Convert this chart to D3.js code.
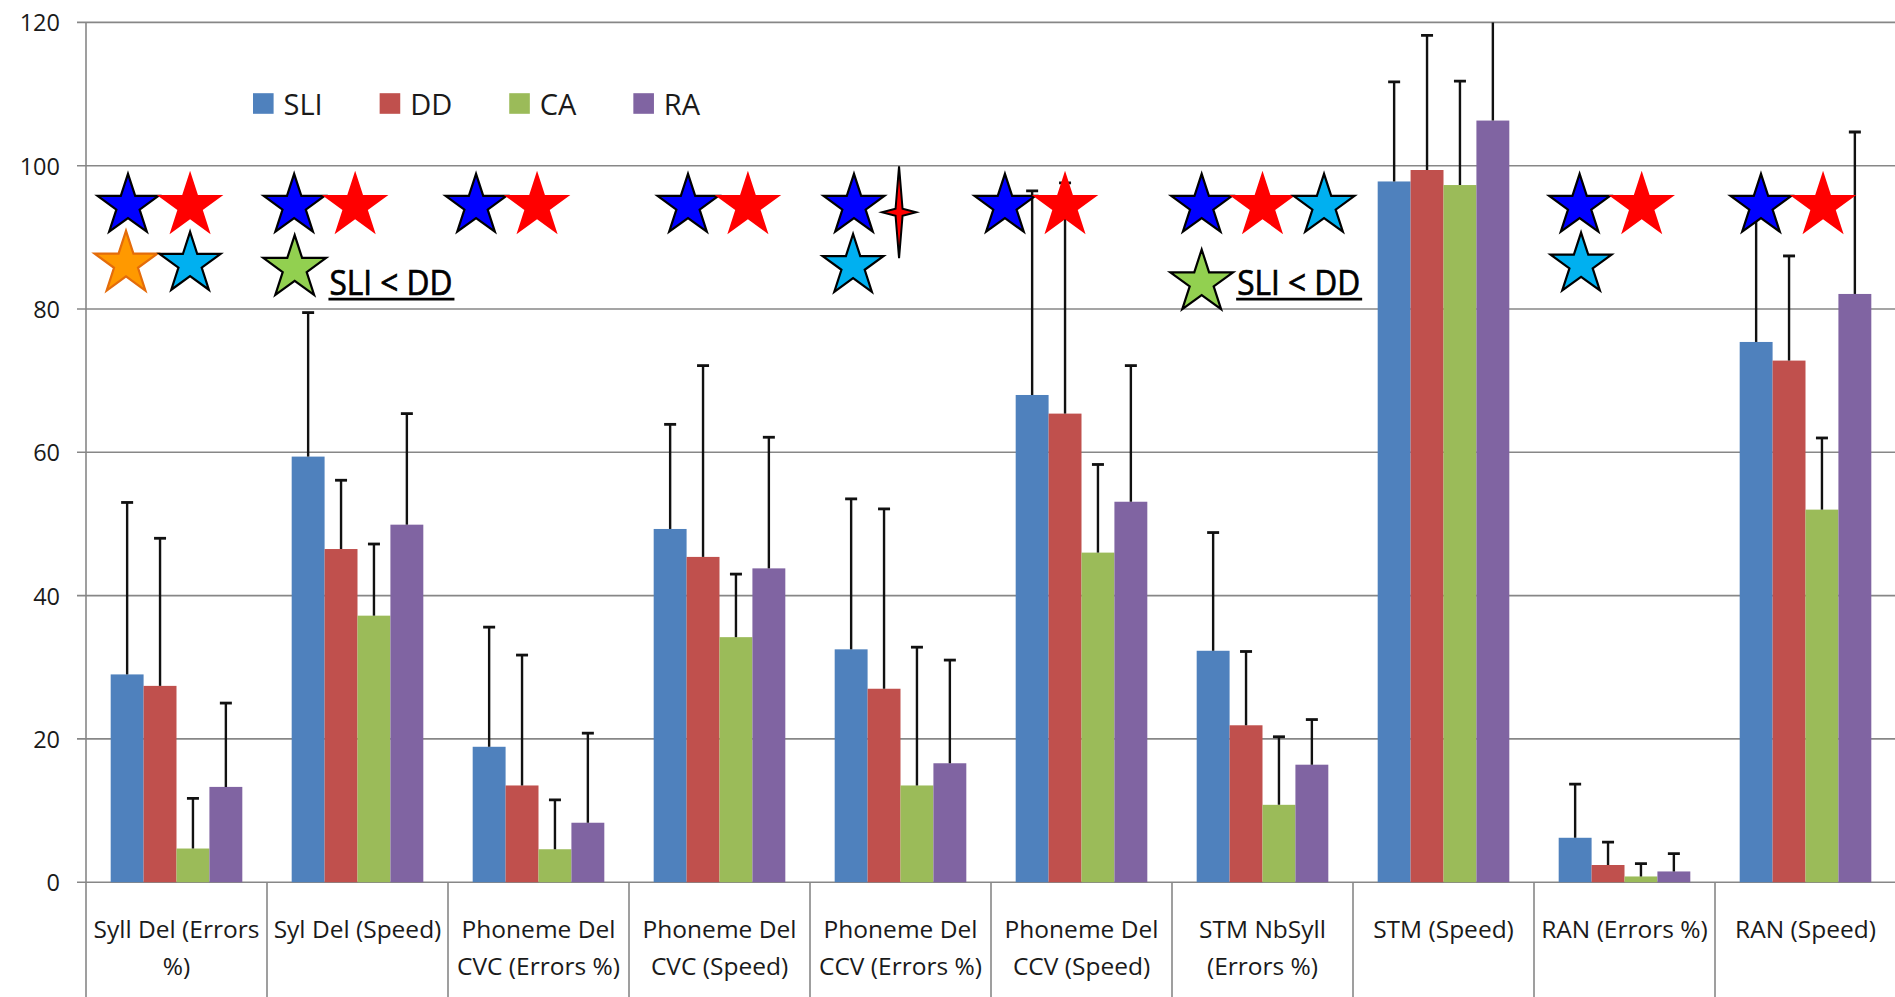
<!DOCTYPE html>
<html>
<head>
<meta charset="utf-8">
<script src="https://cdn.jsdelivr.net/npm/d3@7"></script>
<style>
  body { margin: 0; background: #fff; }
  svg { display: block; font-family: "Open Sans", sans-serif; }
</style>
</head>
<body>
<svg id="chart" width="1895" height="997"></svg>
<script>
// data
var categories = ['Syll Del (Errors %)', 'Syl Del (Speed)', 'Phoneme Del CVC (Errors %)', 'Phoneme Del CVC (Speed)',
  'Phoneme Del CCV (Errors %)', 'Phoneme Del CCV (Speed)', 'STM NbSyll (Errors %)', 'STM (Speed)',
  'RAN (Errors %)', 'RAN (Speed)'];
var tickLines = [['Syll Del (Errors', '%)'], ['Syl Del (Speed)'], ['Phoneme Del', 'CVC (Errors %)'],
  ['Phoneme Del', 'CVC (Speed)'], ['Phoneme Del', 'CCV (Errors %)'], ['Phoneme Del', 'CCV (Speed)'],
  ['STM NbSyll', '(Errors %)'], ['STM (Speed)'], ['RAN (Errors %)'], ['RAN (Speed)']];
var series = ['SLI', 'DD', 'CA', 'RA'];
var colors = ['#4F81BD', '#C0504D', '#9BBB59', '#8064A2'];

var sli = [29.0, 59.4, 18.9, 49.3, 32.5, 68.0, 32.3, 97.8, 6.2, 75.4];
var dd  = [27.4, 46.5, 13.5, 45.4, 27.0, 65.4, 21.9, 99.4, 2.4, 72.8];
var ca  = [4.7, 37.2, 4.6, 34.2, 13.5, 46.0, 10.8, 97.3, 0.8, 52.0];
var ra  = [13.3, 49.9, 8.3, 43.8, 16.6, 53.1, 16.4, 106.3, 1.5, 82.1];

var sliSd = [24.0, 20.1, 16.7, 14.6, 21.0, 28.5, 16.5, 13.9, 7.5, 18.6];
var ddSd  = [20.6, 9.6, 18.2, 26.7, 25.1, 32.2, 10.3, 18.8, 3.2, 14.6];
var caSd  = [7.0, 10.0, 6.9, 8.8, 19.3, 12.3, 9.5, 14.5, 1.8, 10.0];
var raSd  = [11.7, 15.5, 12.5, 18.3, 14.4, 19.0, 6.3, 15.7, 2.5, 22.6];

var yTicks = [0, 20, 40, 60, 80, 100, 120];

// significance stars: [category index, x position in band (0..1), y value, kind]
var stars = [
  [0, 0.232, 94.4, 'blue'], [0, 0.575, 94.4, 'red'], [0, 0.221, 86.3, 'orange'], [0, 0.575, 86.3, 'cyan'],
  [1, 0.150, 94.4, 'blue'], [1, 0.487, 94.4, 'red'], [1, 0.153, 85.7, 'green'],
  [2, 0.155, 94.4, 'blue'], [2, 0.492, 94.4, 'red'],
  [3, 0.326, 94.4, 'blue'], [3, 0.657, 94.4, 'red'],
  [4, 0.243, 94.4, 'blue'], [4, 0.492, 93.5, 'spark'], [4, 0.238, 86.0, 'cyan'],
  [5, 0.077, 94.4, 'blue'], [5, 0.409, 94.4, 'red'],
  [6, 0.164, 94.4, 'blue'], [6, 0.500, 94.4, 'red'], [6, 0.840, 94.4, 'cyan'], [6, 0.164, 83.7, 'green'],
  [8, 0.252, 94.4, 'blue'], [8, 0.595, 94.4, 'red'], [8, 0.260, 86.2, 'cyan'],
  [9, 0.254, 94.4, 'blue'], [9, 0.597, 94.4, 'red']
];
// "SLI < DD" notes: [category index, x position in band, baseline value]
var notes = [[1, 0.345, 82.0], [6, 0.360, 82.0]];

var starStyle = {
  blue:   { fill: '#0000FF', stroke: '#000', r: 32 },
  red:    { fill: '#FF0000', stroke: 'none', r: 35 },
  orange: { fill: '#FF9900', stroke: '#E46C0A', r: 33 },
  cyan:   { fill: '#00B0F0', stroke: '#000', r: 32 },
  green:  { fill: '#92D050', stroke: '#000', r: 33 }
};

var values = [sli, dd, ca, ra];
var sds = [sliSd, ddSd, caSd, raSd];

var svg = d3.select('#chart');
var plotLeft = 86, plotTop = 22.4, plotBottom = 882.2, catW = 181;

var x = d3.scaleBand().domain(categories).range([plotLeft, plotLeft + catW * categories.length]).padding(0);
var x1 = d3.scaleBand().domain(series).range([0, x.bandwidth()]).paddingInner(0).paddingOuter(0.75);
var y = d3.scaleLinear().domain([0, 120]).range([plotBottom, plotTop]);

// gridlines + ticks
svg.append('g').selectAll('line')
  .data(yTicks)
  .enter().append('line')
  .attr('x1', plotLeft - 9).attr('x2', 1895)
  .attr('y1', function(d) { return y(d); }).attr('y2', function(d) { return y(d); })
  .attr('stroke', '#878787').attr('stroke-width', 1.6);

svg.append('g').selectAll('text')
  .data(yTicks)
  .enter().append('text')
  .attr('x', 60).attr('y', function(d) { return y(d); })
  .attr('text-anchor', 'end').attr('dominant-baseline', 'central')
  .attr('font-size', 23.5).attr('fill', '#1a1a1a')
  .text(function(d) { return d; });

// y axis line and category separators
svg.append('line').attr('x1', plotLeft).attr('x2', plotLeft).attr('y1', plotTop).attr('y2', 997)
  .attr('stroke', '#878787').attr('stroke-width', 1.6);
svg.append('g').selectAll('line')
  .data(categories)
  .enter().append('line')
  .attr('x1', function(d) { return x(d) + x.bandwidth(); })
  .attr('x2', function(d) { return x(d) + x.bandwidth(); })
  .attr('y1', plotBottom).attr('y2', 997)
  .attr('stroke', '#878787').attr('stroke-width', 1.6);

// category labels
var lab = svg.append('g').selectAll('text')
  .data(categories)
  .enter().append('text')
  .attr('text-anchor', 'middle')
  .attr('font-size', 24.5).attr('fill', '#1a1a1a');
lab.each(function(d, i) {
  var t = d3.select(this);
  tickLines[i].forEach(function(line, j) {
    t.append('tspan')
      .attr('x', x(d) + x.bandwidth() / 2)
      .attr('y', 928 + j * 37)
      .attr('dominant-baseline', 'central')
      .text(line);
  });
});

// bars
var bars = [];
categories.forEach(function(c, i) {
  series.forEach(function(s, k) {
    bars.push({ cat: c, s: s, k: k, v: values[k][i], sd: sds[k][i] });
  });
});

svg.append('defs').append('clipPath').attr('id', 'plot')
  .append('rect').attr('x', plotLeft).attr('y', plotTop).attr('width', 1895 - plotLeft).attr('height', plotBottom - plotTop);

svg.append('g').selectAll('rect')
  .data(bars)
  .enter().append('rect')
  .attr('x', function(d) { return x(d.cat) + x1(d.s); })
  .attr('width', x1.bandwidth())
  .attr('y', function(d) { return y(d.v); })
  .attr('height', function(d) { return y(0) - y(d.v); })
  .attr('fill', function(d) { return colors[d.k]; });

// error bars (upper only)
var eb = svg.append('g').attr('clip-path', 'url(#plot)').selectAll('g')
  .data(bars)
  .enter().append('g')
  .attr('stroke', '#111').attr('stroke-width', 2.4);
eb.append('line')
  .attr('x1', function(d) { return x(d.cat) + x1(d.s) + x1.bandwidth() / 2; })
  .attr('x2', function(d) { return x(d.cat) + x1(d.s) + x1.bandwidth() / 2; })
  .attr('y1', function(d) { return y(d.v); })
  .attr('y2', function(d) { return y(d.v + d.sd); });
eb.append('line')
  .attr('x1', function(d) { return x(d.cat) + x1(d.s) + x1.bandwidth() / 2 - 6; })
  .attr('x2', function(d) { return x(d.cat) + x1(d.s) + x1.bandwidth() / 2 + 6; })
  .attr('y1', function(d) { return y(d.v + d.sd); })
  .attr('y2', function(d) { return y(d.v + d.sd); })
  .attr('stroke-width', 2.8);

// legend
var lg = svg.append('g').attr('transform', 'translate(253,103.5)');
var lx = 0;
series.forEach(function(s, k) {
  lg.append('rect').attr('x', lx).attr('y', -10.3).attr('width', 20.6).attr('height', 20.6).attr('fill', colors[k]);
  var t = lg.append('text').attr('x', lx + 30.5).attr('y', 0).attr('dominant-baseline', 'central')
    .attr('font-size', 29).attr('fill', '#1a1a1a').text(s);
  lx += 30.5 + t.node().getComputedTextLength() + 57;
});

// star shapes
var starPath = function(R, r, n) {
  var pts = [];
  for (var i = 0; i < n * 2; i++) {
    var a = Math.PI * i / n - Math.PI / 2;
    var rad = i % 2 === 0 ? R : r;
    pts.push([Math.cos(a) * rad, Math.sin(a) * rad]);
  }
  return 'M' + pts.join('L') + 'Z';
};

stars.forEach(function(st) {
  var cx = x(categories[st[0]]) + st[1] * x.bandwidth();
  var cy = y(st[2]);
  if (st[3] === 'spark') {
    svg.append('path')
      .attr('d', 'M0,-46L3.5,-3.5L17,0L3.5,3.5L0,46L-3.5,3.5L-17,0L-3.5,-3.5Z')
      .attr('transform', 'translate(' + cx + ',' + cy + ')')
      .attr('fill', '#FF0000').attr('stroke', '#000').attr('stroke-width', 2);
    return;
  }
  var sty = starStyle[st[3]];
  svg.append('path')
    .attr('d', starPath(sty.r, sty.r * 0.382, 5))
    .attr('transform', 'translate(' + cx + ',' + cy + ')')
    .attr('fill', sty.fill)
    .attr('stroke', sty.stroke)
    .attr('stroke-width', 2.2)
    .attr('stroke-linejoin', 'miter');
});

notes.forEach(function(n) {
  var nx = x(categories[n[0]]) + n[1] * x.bandwidth();
  var ny = y(n[2]);
  svg.append('text').attr('x', nx).attr('y', ny)
    .attr('font-size', 34).attr('fill', '#000')
    .attr('stroke', '#000').attr('stroke-width', 0.7)
    .attr('textLength', 123).attr('lengthAdjust', 'spacingAndGlyphs')
    .text('SLI < DD');
  svg.append('line').attr('x1', nx - 1).attr('x2', nx + 125)
    .attr('y1', ny + 4.5).attr('y2', ny + 4.5)
    .attr('stroke', '#000').attr('stroke-width', 2.6);
});
</script>
</body>
</html>
